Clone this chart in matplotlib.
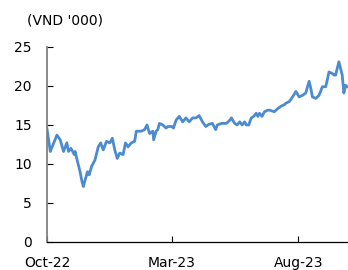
# price chart, VND '000, Oct-22 to Sep-23
import pandas as pd
import matplotlib
matplotlib.use("Agg")
import matplotlib.pyplot as plt
import matplotlib.dates as mdates

# values
dates = [
    "2022-10-01", "2022-10-05", "2022-10-13", "2022-10-17", "2022-10-21", "2022-10-25",
    "2022-10-27", "2022-10-30", "2022-11-03", "2022-11-04", "2022-11-06", "2022-11-10",
    "2022-11-12", "2022-11-14", "2022-11-16", "2022-11-19", "2022-11-21", "2022-11-24",
    "2022-11-28", "2022-12-02", "2022-12-05", "2022-12-08", "2022-12-12", "2022-12-16",
    "2022-12-19", "2022-12-22", "2022-12-25", "2022-12-28", "2023-01-01", "2023-01-04",
    "2023-01-07", "2023-01-11", "2023-01-15", "2023-01-17", "2023-01-23", "2023-01-27",
    "2023-01-30", "2023-02-02", "2023-02-06", "2023-02-07", "2023-02-10", "2023-02-12",
    "2023-02-14", "2023-02-18", "2023-02-22", "2023-02-24", "2023-03-01", "2023-03-03",
    "2023-03-06", "2023-03-10", "2023-03-14", "2023-03-18", "2023-03-22", "2023-03-26",
    "2023-03-30", "2023-04-03", "2023-04-07", "2023-04-11", "2023-04-15", "2023-04-19",
    "2023-04-23", "2023-04-25", "2023-04-30", "2023-05-06", "2023-05-10", "2023-05-12",
    "2023-05-16", "2023-05-19", "2023-05-22", "2023-05-25", "2023-05-28", "2023-05-30",
    "2023-06-02", "2023-06-05", "2023-06-08", "2023-06-11", "2023-06-13", "2023-06-15",
    "2023-06-18", "2023-06-21", "2023-06-25", "2023-06-27", "2023-07-03", "2023-07-07",
    "2023-07-11", "2023-07-15", "2023-07-17", "2023-07-21", "2023-07-25", "2023-07-29",
    "2023-08-02", "2023-08-06", "2023-08-10", "2023-08-12", "2023-08-14", "2023-08-16",
    "2023-08-18", "2023-08-22", "2023-08-26", "2023-08-30", "2023-09-03", "2023-09-05",
    "2023-09-07", "2023-09-11", "2023-09-13", "2023-09-15", "2023-09-19", "2023-09-23",
    "2023-09-25", "2023-09-27", "2023-09-29",
]
prices = [
    14.5, 11.6, 13.7, 13.1, 11.6, 12.7,
    11.6, 12.0, 11.2, 11.6, 10.7, 9.0,
    7.9, 7.1, 7.9, 9.0, 8.6, 9.7,
    10.5, 12.2, 12.7, 11.8, 12.9, 12.7,
    13.3, 11.8, 10.7, 11.4, 11.2, 12.7,
    12.2, 12.7, 12.9, 14.2, 14.2, 14.4,
    15.0, 13.9, 14.2, 13.1, 14.2, 14.4,
    15.2, 15.0, 14.6, 14.8, 14.8, 14.6,
    15.6, 16.1, 15.4, 15.9, 15.4, 15.9,
    15.9, 16.2, 15.4, 14.8, 15.1, 15.2,
    14.4, 15.0, 15.2, 15.2, 15.6, 15.9,
    15.2, 15.0, 15.4, 15.0, 15.4, 15.0,
    15.0, 15.9, 16.1, 16.5, 16.1, 16.5,
    16.1, 16.7, 16.9, 16.9, 16.7, 17.1,
    17.4, 17.6, 17.8, 18.0, 18.6, 19.3,
    18.6, 18.8, 19.1, 19.9, 20.6, 19.7,
    18.6, 18.4, 18.8, 19.9, 19.9, 20.8,
    21.8, 21.6, 21.4, 21.4, 23.1, 21.4,
    19.1, 20.1, 19.9,
]
y_ticks = [0, 5, 10, 15, 20, 25]
x_ticks = ["2022-10-01", "2023-03-01", "2023-08-01"]

x = pd.to_datetime(dates)

fig = plt.figure(figsize=(3.48, 2.70), dpi=100)
ax = fig.add_axes([0.135, 0.104, 0.865, 0.722])

ax.plot(x, prices, color="#4C8BD0", linewidth=2.0)

ax.set_ylim(0, 25)
ax.set_yticks(y_ticks)
ax.set_xlim(pd.Timestamp("2022-10-01"), pd.Timestamp("2023-09-30"))
ax.set_xticks(pd.to_datetime(x_ticks))
ax.xaxis.set_major_formatter(mdates.DateFormatter("%b-%y"))

ax.tick_params(axis="both", direction="in", length=4, width=0.8, labelsize=10, colors="black")
ax.tick_params(axis="y", pad=11)
ax.tick_params(axis="x", pad=10)

for s in ["top", "right"]:
    ax.spines[s].set_visible(False)
ax.spines["left"].set_color("#808080")
ax.spines["left"].set_linewidth(1.3)
ax.spines["bottom"].set_color("black")
ax.spines["bottom"].set_linewidth(0.9)

fig.text(0.078, 0.925, "(VND '000)", fontsize=10, ha="left", va="center")

fig.savefig("out.png", dpi=100)
